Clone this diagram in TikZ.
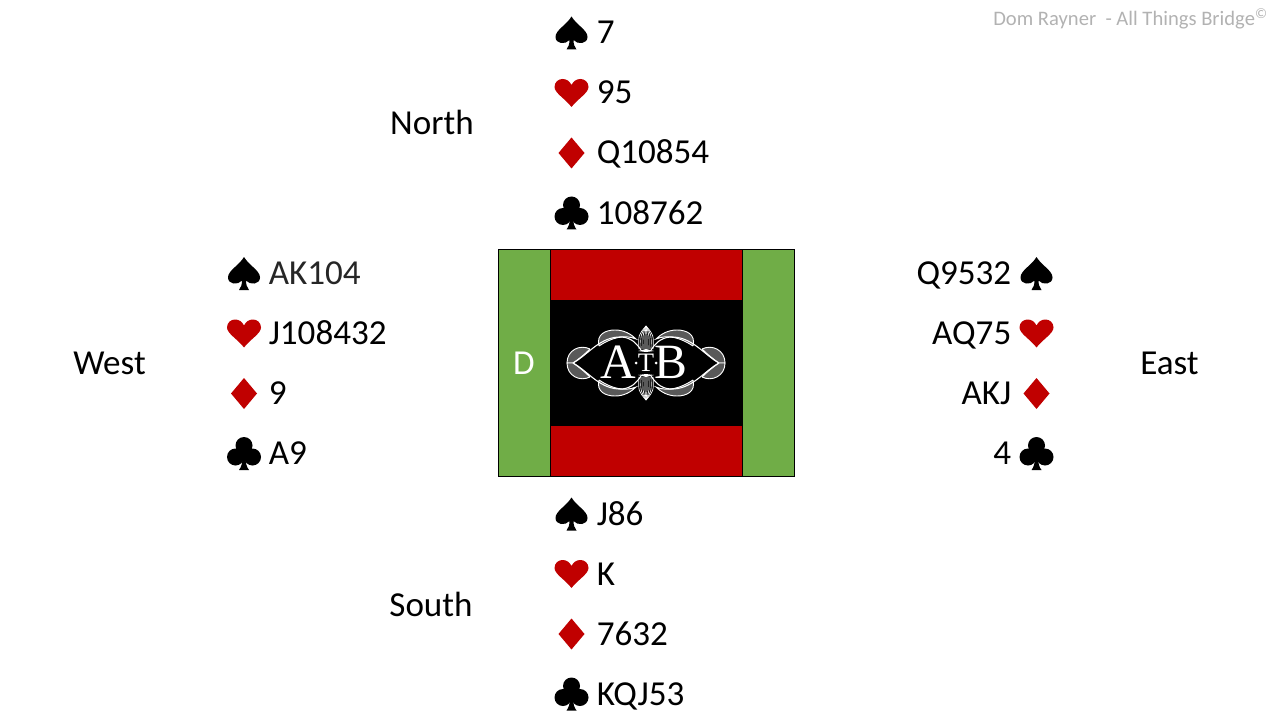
\documentclass[tikz,border=0pt]{standalone}
\usepackage{fontspec}
\setmainfont{Carlito}
\newfontfamily\logofont{Liberation Serif}
\usetikzlibrary{positioning,patterns}
\definecolor{suitred}{HTML}{C00000}
\definecolor{tablegreen}{HTML}{70AD47}
\tikzset{
  cardtext/.style={inner sep=0pt,font=\fontsize{26.3}{30}\selectfont},
  seat/.style={inner sep=0pt,font=\fontsize{26.3}{30}\selectfont},
  orn/.style={draw=white,line width=.7pt},
  spade/.pic={\fill[pic actions] (0,-16.5) .. controls (-5,-8) and (-16,-3) .. (-16,4) .. controls (-16,11) and (-6,12) .. (-2,7) .. controls (-2,11) and (-3,14) .. (-5,16.5) -- (5,16.5) .. controls (3,14) and (2,11) .. (2,7) .. controls (6,12) and (16,11) .. (16,4) .. controls (16,-3) and (5,-8) .. (0,-16.5) -- cycle;},
  heart/.pic={\fill[pic actions] (0,14) .. controls (-6,6) and (-17,0) .. (-17,-6) .. controls (-17,-11) and (-13,-14) .. (-9,-14) .. controls (-5,-14) and (-2,-12) .. (0,-8) .. controls (2,-12) and (5,-14) .. (9,-14) .. controls (13,-14) and (17,-11) .. (17,-6) .. controls (17,0) and (6,6) .. (0,14) -- cycle;},
  diamond/.pic={\fill[pic actions] (0,-15.5) -- (13,0) -- (0,15.5) -- (-13,0) -- cycle;},
  club/.pic={
    \fill[pic actions] (0,-8) circle (8.5);
    \fill[pic actions] (-8.5,3.5) circle (8.5);
    \fill[pic actions] (8.5,3.5) circle (8.5);
    \fill[pic actions] (-4,-3) rectangle (4,6);
    \fill[pic actions] (-1.5,4) .. controls (-1.5,10) and (-3,14) .. (-5,16.5) -- (5,16.5) .. controls (3,14) and (1.5,10) .. (1.5,4) -- cycle;
  },
}
\begin{document}
\begin{tikzpicture}[x=.75pt,y=-.75pt]
\useasboundingbox (0,0) rectangle (1280,720);

\node (credit) at (1268,25.5) [anchor=base east,inner sep=0pt,text=black!30,font=\fontsize{15.45}{17}\selectfont] {Dom Rayner\ \ - All Things Bridge\textsuperscript{\textcopyright}};

% seats
\node (north) at (432,122) [seat] {North};
\node (south) at (431,604) [seat] {South};
\node (west) at (109.5,363) [seat] {West};
\node (east) at (1169.5,363) [seat] {East};

% hands
\foreach \i/\s/\c/\t in {0/spade/black/7,1/heart/suitred/95,2/diamond/suitred/Q10854,3/club/black/108762} {
\pic[fill=\c] (ns\i) at (571.5,33+60*\i) {\s};
\node (nt\i) at (596.5,44+60*\i) [cardtext,anchor=base west] {\t};
}
\foreach \i/\s/\c/\t in {0/spade/black/J86,1/heart/suitred/K,2/diamond/suitred/7632,3/club/black/KQJ53} {
\pic[fill=\c] (ss\i) at (571.5,514+60*\i) {\s};
\node (st\i) at (596.5,525+60*\i) [cardtext,anchor=base west] {\t};
}
\foreach \i/\s/\c/\t in {0/spade/black/\textcolor{black!85}{AK104},1/heart/suitred/J108432,2/diamond/suitred/9,3/club/black/A9} {
\pic[fill=\c] (ws\i) at (244,273.5+60*\i) {\s};
\node (wt\i) at (268.5,284+60*\i) [cardtext,anchor=base west] {\t};
}
\foreach \i/\s/\c/\t in {0/spade/black/Q9532,1/heart/suitred/AQ75,2/diamond/suitred/AKJ,3/club/black/4} {
\pic[fill=\c] (es\i) at (1036.5,273.5+60*\i) {\s};
\node (et\i) at (1011.5,284+60*\i) [cardtext,anchor=base east] {\t};
}

% table
\fill[suitred] (551,250) rectangle (743,476);
\fill[black] (551,300) rectangle (743,426);
\fill[tablegreen] (499,250) rectangle (551,476);
\fill[tablegreen] (743,250) rectangle (795,476);
\draw[line width=.75pt] (498.5,249.5) rectangle (794.5,476);
\draw[line width=.75pt] (550.5,249.5) -- (550.5,476);
\draw[line width=.75pt] (742.5,249.5) -- (742.5,476);
\node (dealer) at (524,363) [seat,text=white] {D};

% logo
\foreach \sx in {1,-1} {
\foreach \sy in {1,-1} {
\begin{scope}[shift={(646,363)},xscale=\sx,yscale=\sy]
\draw[orn,fill=black!65!white] (-56,-14) .. controls (-66,-19) and (-79,-13) .. (-79,0) -- (-73,0) .. controls (-67,-4) and (-61,-9) .. (-56,-14);
\draw[orn,fill=black!65!white] (-47,-17) .. controls (-50,-29) and (-40,-33) .. (-31,-33) .. controls (-22,-33) and (-15,-29) .. (-10,-24) .. controls (-22,-29) and (-35,-25) .. (-47,-17);
\draw[orn,line width=.8pt] (-73,0) .. controls (-58,-8) and (-46,-27) .. (-24,-26) .. controls (-14,-25) and (-9,-19) .. (-5,-13);
\fill[white] (-8,-12) -- (0,-14) -- (0,-11) -- cycle;
\foreach \e in {-7,-5,-3,-1} {
\draw[white,line width=.5pt] (0,-37) .. controls (\e*1.1,-28) .. (\e,-14);
}
\end{scope}
}
}
\node (logoa) at (618,362) [inner sep=0pt,text=white,font=\logofont\fontsize{37}{40}\selectfont] {A};
\node (logot) at (646,363) [inner sep=0pt,text=white,font=\logofont\fontsize{20}{22}\selectfont] {T};
\node (logob) at (671,362) [inner sep=0pt,text=white,font=\logofont\fontsize{37}{40}\selectfont] {B};
\fill[white] (636,363) circle (1.5);
\fill[white] (656,363) circle (1.5);
\end{tikzpicture}
\end{document}
